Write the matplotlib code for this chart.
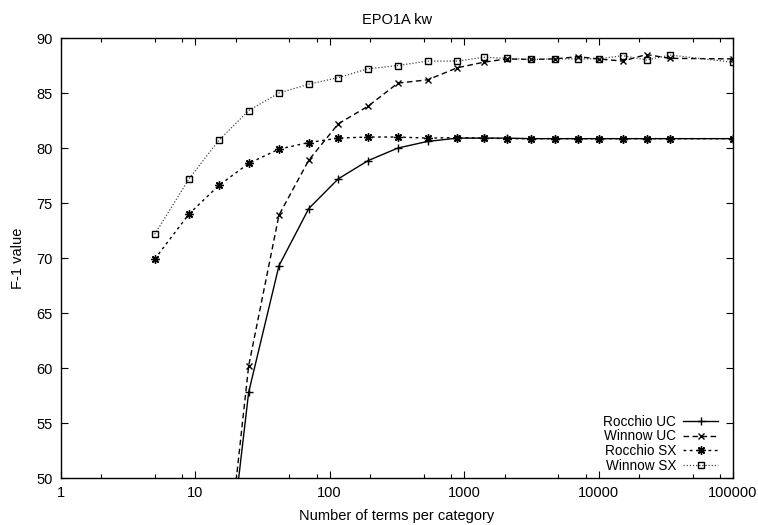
import matplotlib
matplotlib.use("Agg")
import matplotlib.pyplot as plt
from matplotlib.ticker import FixedLocator, FixedFormatter, NullFormatter

plt.rcParams['font.family'] = ['Liberation Sans', 'DejaVu Sans']

title = "EPO1A kw"
xlabel = "Number of terms per category"
ylabel = "F-1 value"

x_sx = [5, 9, 15, 25, 42, 70, 116, 193, 322, 536, 893, 1400, 2080, 3130,
        4730, 7020, 10000, 15100, 22800, 34000, 100000]
x_uc = x_sx[2:]

rocchio_uc = [34.5, 57.8, 69.3, 74.5, 77.2, 78.85, 80.0, 80.6, 80.9, 80.9,
              80.9, 80.85, 80.85, 80.85, 80.85, 80.85, 80.85, 80.85, 80.85]
winnow_uc = [35.4, 60.2, 73.9, 78.9, 82.2, 83.8, 85.9, 86.2, 87.3, 87.8,
             88.1, 88.05, 88.1, 88.3, 88.1, 87.9, 88.5, 88.15, 88.1]
rocchio_sx = [69.9, 74.0, 76.6, 78.6, 79.9, 80.5, 80.9, 81.0, 81.0, 80.9,
              80.95, 80.9, 80.85, 80.85, 80.85, 80.85, 80.85, 80.85, 80.85,
              80.85, 80.85]
winnow_sx = [72.15, 77.2, 80.7, 83.4, 85.0, 85.8, 86.4, 87.2, 87.5, 87.9,
             87.9, 88.25, 88.15, 88.05, 88.1, 88.1, 88.1, 88.4, 88.0, 88.45,
             87.8]

labels = ["Rocchio UC", "Winnow UC", "Rocchio SX", "Winnow SX"]

xticks = [1, 10, 100, 1000, 10000, 100000]
xtick_labels = ["1", "10", "100", "1000", "10000", "100000"]
yticks = [50, 55, 60, 65, 70, 75, 80, 85, 90]

FS = 10.5

fig = plt.figure(figsize=(7.58, 5.25), dpi=100)
ax = fig.add_axes([0.0801, 0.0895, 0.967 - 0.0801, 0.9276 - 0.0895])

ax.plot(x_uc, rocchio_uc, color='black', lw=1.0, linestyle='-',
        marker='+', markersize=6, markeredgewidth=1.0, label=labels[0])
ax.plot(x_uc, winnow_uc, color='black', lw=1.0, linestyle=(0, (4, 2.5)),
        marker='x', markersize=5, markeredgewidth=1.0, label=labels[1])
ax.plot(x_sx, rocchio_sx, color='black', lw=1.0, linestyle=(0, (2, 2.5)),
        marker=(8, 2, 0), markersize=6, markeredgewidth=1.0, label=labels[2])
ax.plot(x_sx, winnow_sx, color='#444444', lw=0.9, linestyle=(0, (1, 1.5)),
        marker='s', markersize=5, markerfacecolor='none',
        markeredgecolor='black', markeredgewidth=1.0, label=labels[3])

ax.set_xscale('log')
ax.set_xlim(1, 100000)
ax.set_ylim(50, 90)

ax.xaxis.set_major_locator(FixedLocator(xticks))
ax.xaxis.set_major_formatter(FixedFormatter(xtick_labels))
minors = []
for d in [1, 10, 100, 1000, 10000]:
    for m in (2, 5, 8):
        minors.append(d * m)
ax.xaxis.set_minor_locator(FixedLocator(minors))
ax.xaxis.set_minor_formatter(NullFormatter())
ax.set_yticks(yticks)
ax.set_yticklabels([str(v) for v in yticks])

ax.tick_params(which='both', direction='in', top=True, right=True,
               labelsize=FS, width=0.8)
ax.tick_params(which='major', length=5, pad=6)
ax.tick_params(which='minor', length=3)
for s in ax.spines.values():
    s.set_linewidth(1.0)

ax.set_title(title, fontsize=FS, pad=10)
ax.set_xlabel(xlabel, fontsize=FS, labelpad=6)
ax.set_ylabel(ylabel, fontsize=FS, labelpad=8)

leg = ax.legend(loc='lower right', frameon=False, markerfirst=False,
                fontsize=9.8, handlelength=2.6, handletextpad=0.5,
                labelspacing=0.05, borderaxespad=0.0, borderpad=0.0,
                bbox_to_anchor=(0.978, 0.012))
for t in leg.get_texts():
    t.set_ha('right')

fig.savefig("out.png", dpi=100)
